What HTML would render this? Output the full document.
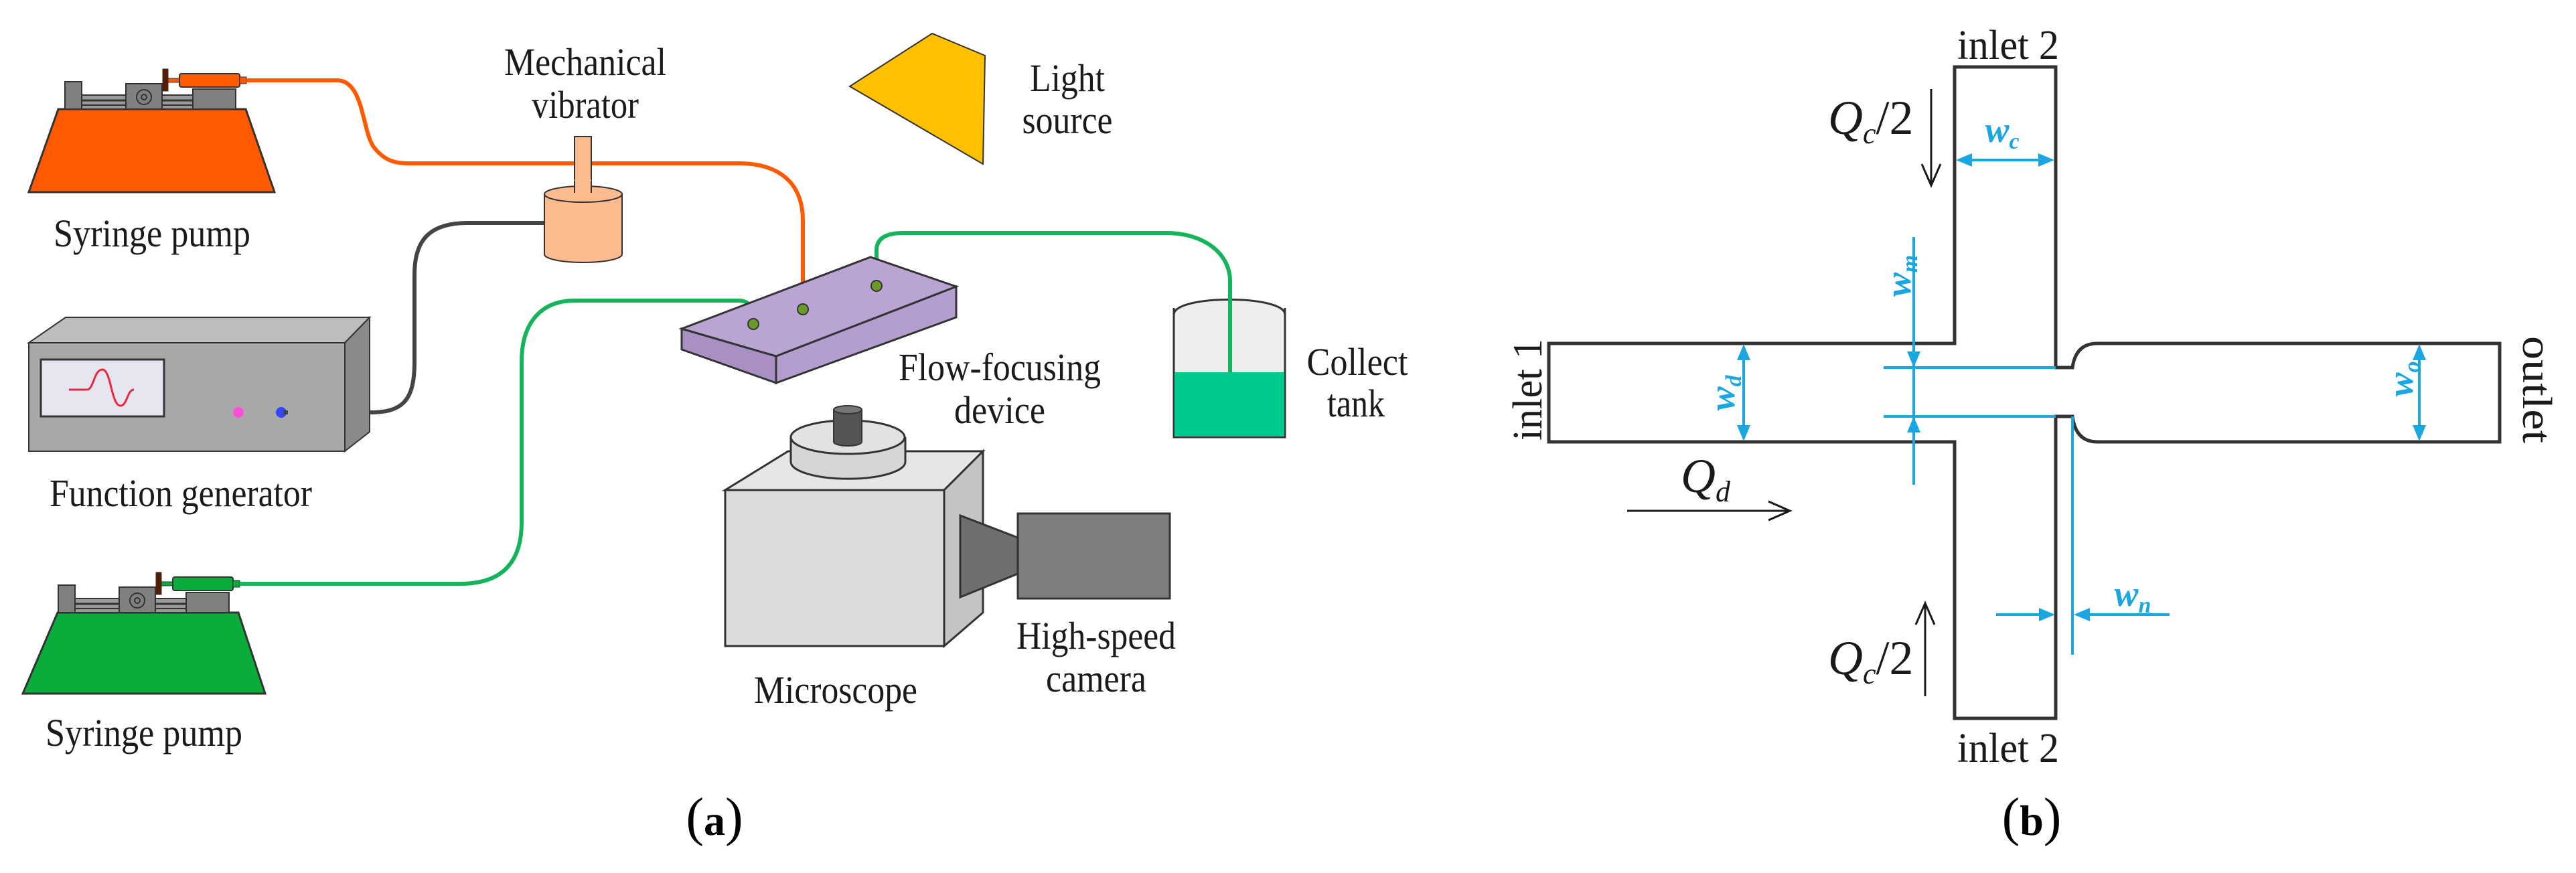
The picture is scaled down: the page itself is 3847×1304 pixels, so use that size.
<!DOCTYPE html>
<html><head><meta charset="utf-8"><style>html,body{margin:0;padding:0;background:#fff}svg{display:block}</style></head>
<body>
<svg width="3847" height="1304" viewBox="0 0 3847 1304" xmlns="http://www.w3.org/2000/svg" font-family="Liberation Serif, serif">
<defs>
<g id="mech">
  <rect x="97" y="122" width="25" height="41" fill="#808080" stroke="#333" stroke-width="2"/>
  <rect x="122" y="142" width="166" height="21" fill="#9a9a9a" stroke="#333" stroke-width="2"/>
  <line x1="122" y1="150" x2="288" y2="150" stroke="#333" stroke-width="3"/>
  <line x1="122" y1="157" x2="288" y2="157" stroke="#333" stroke-width="2"/>
  <rect x="188" y="125" width="54" height="38" fill="#808080" stroke="#333" stroke-width="2"/>
  <circle cx="215" cy="145" r="11" fill="none" stroke="#333" stroke-width="2"/>
  <circle cx="215" cy="145" r="4" fill="none" stroke="#333" stroke-width="2"/>
  <rect x="288" y="133" width="64" height="30" fill="#808080" stroke="#333" stroke-width="2"/>
  <rect x="243" y="103" width="8" height="33" fill="#5a1a00" stroke="#333" stroke-width="1"/>
</g>
</defs>

<!-- orange pump -->
<polygon points="87,163 367,163 410,287 43,287" fill="#ff5a00" stroke="#333" stroke-width="3"/>
<use href="#mech"/>
<rect x="251" y="117" width="18" height="6" fill="#ff5a00" stroke="#333" stroke-width="1"/>
<rect x="268" y="110" width="90" height="20" rx="3" fill="#ff5a00" stroke="#333" stroke-width="2"/>
<rect x="358" y="115" width="10" height="10" fill="#ff5a00" stroke="#333" stroke-width="1"/>
<path d="M368,120 L503,120 C545,120 540,200 560,222 C575,240 590,244 610,244 L1103,244 C1160,244 1199,270 1199,330 L1199,462" fill="none" stroke="#ff5a00" stroke-width="6"/>

<!-- green pump -->
<g transform="translate(-10,752)">
<polygon points="96,163 366,163 406,284 44,284" fill="#0aad3c" stroke="#333" stroke-width="3"/>
<use href="#mech"/>
<rect x="251" y="117" width="18" height="6" fill="#0aad3c" stroke="#333" stroke-width="1"/>
<rect x="268" y="110" width="90" height="20" rx="3" fill="#0aad3c" stroke="#333" stroke-width="2"/>
<rect x="358" y="115" width="10" height="10" fill="#0aad3c" stroke="#333" stroke-width="1"/>
</g>
<path d="M358,872 L687,872 C750,872 779,840 779,780 L779,540 C779,480 810,449 858,449 L1103,449 C1120,449 1125,460 1125,483" fill="none" stroke="#14b45a" stroke-width="6"/>

<!-- vibrator -->
<rect x="858" y="204" width="25" height="80" fill="#ffbb90" stroke="#333" stroke-width="2"/>
<path d="M813,290 L813,380 A58,12 0 0 0 929,380 L929,290" fill="#ffbb90" stroke="#333" stroke-width="2"/>
<ellipse cx="871" cy="290" rx="58" ry="12" fill="#ffbb90" stroke="#333" stroke-width="2"/>
<rect x="858" y="268" width="25" height="20" fill="#ffbb90"/>
<line x1="858" y1="270" x2="858" y2="288" stroke="#333" stroke-width="2"/>
<line x1="883" y1="270" x2="883" y2="288" stroke="#333" stroke-width="2"/>

<!-- black cable -->
<path d="M813,333 L699,333 C640,333 619,360 619,410 L619,541 C619,600 600,616 552,616 L423,616" fill="none" stroke="#444" stroke-width="6"/>

<!-- function generator -->
<polygon points="43,512 98,474 552,474 515,512" fill="#bdbdbd" stroke="#333" stroke-width="2"/>
<polygon points="515,512 552,474 552,645 515,674" fill="#8a8a8a" stroke="#333" stroke-width="2"/>
<rect x="43" y="512" width="472" height="162" fill="#a8a8a8" stroke="#333" stroke-width="2"/>
<rect x="61" y="537" width="184" height="85" fill="#e6e6f0" stroke="#333" stroke-width="3"/>
<path d="M103,582 L130,582 C140,582 140,552 153,552 C166,552 166,606 180,606 C190,606 190,582 200,582" fill="none" stroke="#e8283c" stroke-width="3"/>
<circle cx="356" cy="616" r="8" fill="#ff4fd8"/>
<circle cx="420" cy="616" r="8" fill="#3344ff"/>
<path d="M423,616 L430,616" stroke="#444" stroke-width="6"/>

<!-- light source -->
<polygon points="1269,129 1392,50 1471,83 1468,245" fill="#ffc000" stroke="#333" stroke-width="2"/>

<!-- green tube 2 + tank -->
<path d="M1753,460 L1753,653 L1919,653 L1919,460" fill="#eeeeee" stroke="#333" stroke-width="3"/>
<rect x="1754" y="556" width="164" height="96" fill="#00c990"/>
<path d="M1753,470 C1753,440 1919,440 1919,470" fill="#eeeeee" stroke="#333" stroke-width="3"/>
<path d="M1309,427 L1309,374 C1309,355 1325,348 1349,348 L1741,348 C1800,348 1837,380 1837,420 L1837,556" fill="none" stroke="#14b45a" stroke-width="6"/>

<!-- flow device -->
<polygon points="1018,491 1159,532 1159,572 1018,522" fill="#a890c4" stroke="#333" stroke-width="3"/>
<polygon points="1159,532 1428,428 1428,474 1159,572" fill="#b49ed0" stroke="#333" stroke-width="3"/>
<polygon points="1018,491 1300,384 1428,428 1159,532" fill="#b9a4d4" stroke="#333" stroke-width="3"/>
<circle cx="1125" cy="484" r="8" fill="#6a9a2a" stroke="#333" stroke-width="2"/>
<circle cx="1199" cy="462" r="8" fill="#6a9a2a" stroke="#333" stroke-width="2"/>
<circle cx="1309" cy="427" r="8" fill="#6a9a2a" stroke="#333" stroke-width="2"/>

<!-- microscope -->
<polygon points="1083,732 1177,674 1468,674 1410,732" fill="#e6e6e6" stroke="#333" stroke-width="3"/>
<polygon points="1410,732 1468,674 1468,915 1410,965" fill="#c4c4c4" stroke="#333" stroke-width="3"/>
<rect x="1083" y="732" width="327" height="233" fill="#dcdcdc" stroke="#333" stroke-width="3"/>
<path d="M1181,653 L1181,690 A85,25 0 0 0 1352,690 L1352,653" fill="#d6d6d6" stroke="#333" stroke-width="3"/>
<ellipse cx="1266" cy="653" rx="85" ry="25" fill="#e2e2e2" stroke="#333" stroke-width="3"/>
<path d="M1245,612 L1245,660 A21,6 0 0 0 1287,660 L1287,612" fill="#555" stroke="#333" stroke-width="2"/>
<ellipse cx="1266" cy="612" rx="21" ry="6" fill="#777" stroke="#333" stroke-width="2"/>
<polygon points="1434,770 1520,803 1520,857 1434,892" fill="#6e6e6e" stroke="#333" stroke-width="3"/>
<rect x="1520" y="767" width="227" height="127" fill="#7f7f7f" stroke="#333" stroke-width="3"/>

<!-- panel a labels -->
<g font-size="58" fill="#1a1a1a" text-anchor="middle">
<text x="874" y="112" textLength="242" lengthAdjust="spacingAndGlyphs">Mechanical</text>
<text x="874" y="176" textLength="160" lengthAdjust="spacingAndGlyphs">vibrator</text>
<text x="1594" y="136" textLength="112" lengthAdjust="spacingAndGlyphs">Light</text>
<text x="1594" y="199" textLength="135" lengthAdjust="spacingAndGlyphs">source</text>
<text x="227" y="368" textLength="294" lengthAdjust="spacingAndGlyphs">Syringe pump</text>
<text x="270" y="756" textLength="392" lengthAdjust="spacingAndGlyphs">Function generator</text>
<text x="215" y="1114" textLength="294" lengthAdjust="spacingAndGlyphs">Syringe pump</text>
<text x="1493" y="568" textLength="302" lengthAdjust="spacingAndGlyphs">Flow-focusing</text>
<text x="1493" y="632" textLength="136" lengthAdjust="spacingAndGlyphs">device</text>
<text x="2027" y="560" textLength="151" lengthAdjust="spacingAndGlyphs">Collect</text>
<text x="2025" y="622" textLength="86" lengthAdjust="spacingAndGlyphs">tank</text>
<text x="1248" y="1050" textLength="244" lengthAdjust="spacingAndGlyphs">Microscope</text>
<text x="1637" y="969" textLength="238" lengthAdjust="spacingAndGlyphs">High-speed</text>
<text x="1637" y="1033" textLength="150" lengthAdjust="spacingAndGlyphs">camera</text>
</g>
<text x="1067" y="1247" font-size="64" text-anchor="middle" fill="#000"><tspan font-size="80">(</tspan><tspan font-weight="bold">a</tspan><tspan font-size="80">)</tspan></text>
<text x="3034" y="1247" font-size="64" text-anchor="middle" fill="#000"><tspan font-size="80">(</tspan><tspan font-weight="bold">b</tspan><tspan font-size="80">)</tspan></text>

<!-- panel b channel -->
<path d="M2313,513 L2919,513 L2919,100 L3070,100 L3070,549 L3095,549 Q3100,513 3132,513 L3733,513 L3733,660 L3132,660 Q3100,660 3095,622 L3070,622 L3070,1073 L2919,1073 L2919,660 L2313,660 Z" fill="none" stroke="#333" stroke-width="5"/>
<g font-size="62" fill="#1a1a1a" text-anchor="middle">
<text x="2999" y="88" textLength="152" lengthAdjust="spacingAndGlyphs">inlet 2</text>
<text x="2999" y="1138" textLength="152" lengthAdjust="spacingAndGlyphs">inlet 2</text>
<text transform="translate(2302,582) rotate(-90)" textLength="152" lengthAdjust="spacingAndGlyphs">inlet 1</text>
<text transform="translate(3768,582) rotate(90)" textLength="160" lengthAdjust="spacingAndGlyphs">outlet</text>
</g>
<!-- Q labels -->
<g font-size="72" fill="#1a1a1a" font-style="italic">
<text x="2730" y="200">Q<tspan font-size="44" dy="14">c</tspan><tspan font-style="normal" dy="-14">/2</tspan></text>
<text x="2730" y="1007">Q<tspan font-size="44" dy="14">c</tspan><tspan font-style="normal" dy="-14">/2</tspan></text>
<text x="2510" y="735">Q<tspan font-size="44" dy="14">d</tspan></text>
</g>
<g stroke="#1a1a1a" stroke-width="3" fill="none">
<line x1="2884" y1="133" x2="2884" y2="275"/><polyline points="2870,245 2884,277 2898,245"/>
<line x1="2875" y1="903" x2="2875" y2="1040"/><polyline points="2861,933 2875,901 2889,933"/>
<line x1="2430" y1="763" x2="2671" y2="763"/><polyline points="2641,749 2673,763 2641,777"/>
</g>
<!-- blue dimensions -->
<g stroke="#1aa6e0" stroke-width="4" fill="none">
<line x1="2930" y1="239" x2="3060" y2="239"/>
<line x1="2858" y1="354" x2="2858" y2="724"/>
<line x1="2813" y1="549" x2="3070" y2="549"/>
<line x1="2813" y1="622" x2="3070" y2="622"/>
<line x1="2604" y1="520" x2="2604" y2="653"/>
<line x1="3613" y1="520" x2="3613" y2="653"/>
<line x1="3095" y1="622" x2="3095" y2="978"/>
<line x1="2981" y1="918" x2="3060" y2="918"/>
<line x1="3240" y1="918" x2="3102" y2="918"/>
</g>
<g fill="#1aa6e0">
<polygon points="2921,239 2945,229 2945,249"/><polygon points="3068,239 3044,229 3044,249"/>
<polygon points="2858,549 2848,525 2868,525"/><polygon points="2858,622 2848,646 2868,646"/>
<polygon points="2604,514 2594,538 2614,538"/><polygon points="2604,659 2594,635 2614,635"/>
<polygon points="3613,514 3603,538 3623,538"/><polygon points="3613,659 3603,635 3623,635"/>
<polygon points="3069,918 3045,908 3045,928"/><polygon points="3097,918 3121,908 3121,928"/>
</g>
<g font-size="54" fill="#1aa6e0" font-style="italic" font-weight="bold" text-anchor="middle">
<text x="2990" y="212">w<tspan font-size="34" dy="10">c</tspan></text>
<text x="3185" y="905">w<tspan font-size="34" dy="10">n</tspan></text>
<text transform="translate(2853,412) rotate(-90)">w<tspan font-size="34" dy="10">m</tspan></text>
<text transform="translate(2590,587) rotate(-90)">w<tspan font-size="34" dy="10">d</tspan></text>
<text transform="translate(3603,566) rotate(-90)">w<tspan font-size="34" dy="10">o</tspan></text>
</g>
</svg>
</body></html>
